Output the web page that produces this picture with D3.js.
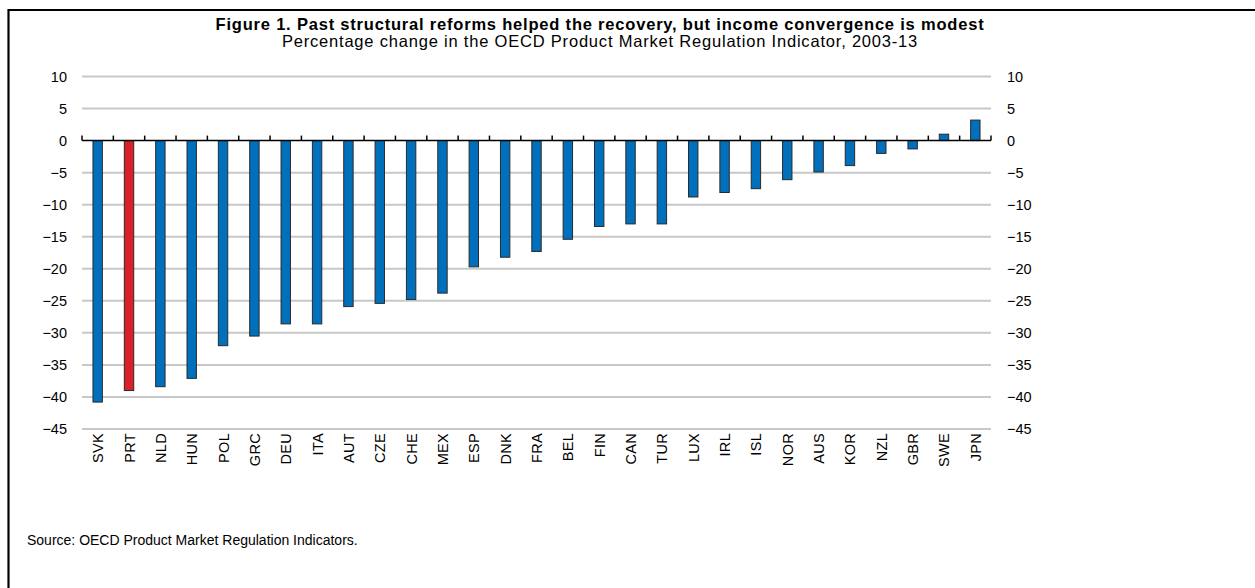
<!DOCTYPE html>
<html>
<head>
<meta charset="utf-8">
<script src="https://cdn.jsdelivr.net/npm/d3@7"></script>
<style>
  html, body { margin: 0; padding: 0; background: #fff; }
  svg { display: block; font-family: "Liberation Sans", Arial, sans-serif; }
</style>
</head>
<body>
<svg id="chart" width="1255" height="588"></svg>
<script>
// Countries, ordered from largest decline to largest increase
const countries = ["SVK","PRT","NLD","HUN","POL","GRC","DEU","ITA","AUT","CZE","CHE","MEX","ESP","DNK","FRA","BEL","FIN","CAN","TUR","LUX","IRL","ISL","NOR","AUS","KOR","NZL","GBR","SWE","JPN"];
// Percentage change in the PMR indicator, 2003-13
const pmrChange = [-40.8,-39.0,-38.4,-37.1,-32.0,-30.5,-28.6,-28.6,-25.9,-25.4,-24.8,-23.8,-19.7,-18.2,-17.3,-15.4,-13.4,-13.0,-13.0,-8.8,-8.1,-7.5,-6.1,-4.9,-3.9,-2.0,-1.3,1.0,3.2];
// Country shown in the highlight colour
const highlighted = ["PRT"];
// Value-axis ticks
const yTicks = [10,5,0,-5,-10,-15,-20,-25,-30,-35,-40,-45];

const titleText = "Figure 1. Past structural reforms helped the recovery, but income convergence is modest";
const subtitleText = "Percentage change in the OECD Product Market Regulation Indicator, 2003-13";
const sourceText = "Source: OECD Product Market Regulation Indicators.";

const data = countries.map((c, i) => ({ country: c, value: pmrChange[i] }));

const svg = d3.select("#chart");
const plotLeft = 82, plotRight = 991, plotTop = 76.5, plotBottom = 429;

const x = d3.scaleBand().domain(countries).range([plotLeft, plotRight]).padding(0);
const y = d3.scaleLinear().domain([-45, 10]).range([plotBottom, plotTop]);

// Frame: top and left rules
svg.append("line").attr("x1", 8.5).attr("x2", 1255).attr("y1", 10).attr("y2", 10)
  .attr("stroke", "#000").attr("stroke-width", 2.2);
svg.append("line").attr("x1", 8.5).attr("x2", 8.5).attr("y1", 9).attr("y2", 588)
  .attr("stroke", "#000").attr("stroke-width", 2.2);

// Titles
const cx = 600;
svg.append("text").attr("x", cx).attr("y", 30)
  .attr("text-anchor", "middle").attr("letter-spacing", 0.8)
  .attr("font-size", 16.5).attr("font-weight", "bold").attr("fill", "#000").text(titleText);
svg.append("text").attr("x", cx).attr("y", 47)
  .attr("text-anchor", "middle").attr("letter-spacing", 0.8)
  .attr("font-size", 16.5).attr("fill", "#000").text(subtitleText);

// Horizontal gridlines
svg.append("g").selectAll("line").data(yTicks.filter(t => t !== 0)).join("line")
  .attr("x1", plotLeft).attr("x2", plotRight)
  .attr("y1", d => y(d)).attr("y2", d => y(d))
  .attr("stroke", "#c8c8c8").attr("stroke-width", 2);

// Left and right value axes (labels only)
const leftAxis = svg.append("g").attr("transform", `translate(${plotLeft - 15},0)`)
  .call(d3.axisLeft(y).tickValues(yTicks).tickSize(0).tickPadding(0).tickFormat(d3.format("d")));
const rightAxis = svg.append("g").attr("transform", `translate(${plotRight + 16},0)`)
  .call(d3.axisRight(y).tickValues(yTicks).tickSize(0).tickPadding(0).tickFormat(d3.format("d")));
[leftAxis, rightAxis].forEach(g => {
  g.select(".domain").remove();
  g.selectAll("text").attr("font-size", 14.5).attr("fill", "#000")
    .attr("font-family", "'Liberation Sans', Arial, sans-serif");
});

// Bars
svg.append("g").selectAll("rect").data(data).join("rect")
  .attr("x", d => x(d.country) + x.bandwidth() * 0.35)
  .attr("width", x.bandwidth() * 0.3)
  .attr("y", d => y(Math.max(0, d.value)))
  .attr("height", d => Math.abs(y(d.value) - y(0)))
  .attr("fill", d => highlighted.includes(d.country) ? "#d92128" : "#0070bd")
  .attr("stroke", "#2a2a2a").attr("stroke-width", 1);

// Zero line with category-boundary ticks pointing upward
const zeroY = y(0);
svg.append("line").attr("x1", plotLeft).attr("x2", plotRight)
  .attr("y1", zeroY).attr("y2", zeroY).attr("stroke", "#000").attr("stroke-width", 1.5);
const boundaries = countries.map(c => x(c)).concat([plotRight]);
svg.append("g").selectAll("line").data(boundaries).join("line")
  .attr("x1", d => d).attr("x2", d => d)
  .attr("y1", zeroY).attr("y2", zeroY - 5)
  .attr("stroke", "#000").attr("stroke-width", 1.5);

// Category labels, rotated
svg.append("g").selectAll("text").data(countries).join("text")
  .attr("transform", d => `translate(${x(d) + x.bandwidth() / 2 + 5.5},433) rotate(-90)`)
  .attr("text-anchor", "end").attr("letter-spacing", 0.3)
  .attr("font-size", 14.5).attr("fill", "#000")
  .text(d => d);

// Source note
svg.append("text").attr("x", 27).attr("y", 545).attr("font-size", 14).attr("fill", "#000").text(sourceText);
</script>
</body>
</html>
